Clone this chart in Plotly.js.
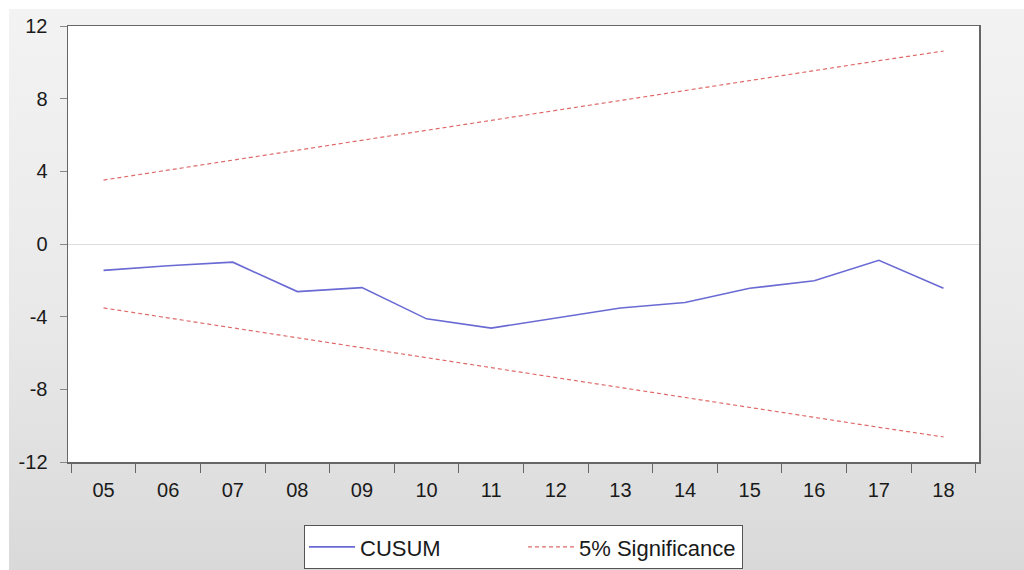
<!DOCTYPE html>
<html>
<head>
<meta charset="utf-8">
<script src="https://cdn.plot.ly/plotly-3.0.1.min.js"></script>
<style>
  html, body { margin: 0; padding: 0; background: #ffffff; width: 1024px; height: 570px; overflow: hidden; }
  #chart { position: absolute; left: 9px; top: 9px; width: 1015px; height: 561px;
           background: linear-gradient(to bottom, #f3f3f3 0%, #e9e9e9 55%, #d9d9d9 100%); }
</style>
</head>
<body>
<div id="chart"></div>
<script>
// Categories (years)
const years = ["05","06","07","08","09","10","11","12","13","14","15","16","17","18"];
// CUSUM statistic
const cusum = [-1.45, -1.2, -1.0, -2.62, -2.4, -4.12, -4.63, -4.07, -3.52, -3.22, -2.44, -2.02, -0.9, -2.44];
// 5% significance bounds
const upper = [3.52, 4.07, 4.62, 5.17, 5.71, 6.26, 6.81, 7.36, 7.90, 8.45, 9.00, 9.55, 10.09, 10.62];
const lower = [-3.52, -4.07, -4.62, -5.17, -5.71, -6.26, -6.81, -7.36, -7.90, -8.45, -9.00, -9.55, -10.09, -10.62];
// Y axis ticks
const yTickVals = [-12, -8, -4, 0, 4, 8, 12];
const yTickText = ["-12", "-8", "-4", "0", "4", "8", "12"];

const font = "Liberation Sans, Arial, sans-serif";

const traces = [
  {
    x: years, y: cusum, type: "scatter", mode: "lines", name: "CUSUM",
    line: { color: "#6a6ad4", width: 1.6 }
  },
  {
    x: years, y: upper, type: "scatter", mode: "lines", name: "5% Significance",
    legendgroup: "sig",
    line: { color: "#e06a6a", width: 1.2, dash: "4px,3px" }
  },
  {
    x: years, y: lower, type: "scatter", mode: "lines", name: "5% Significance",
    legendgroup: "sig", showlegend: false,
    line: { color: "#e06a6a", width: 1.2, dash: "4px,3px" }
  }
];

const layout = {
  width: 1015, height: 561,
  paper_bgcolor: "rgba(0,0,0,0)",
  plot_bgcolor: "#ffffff",
  margin: { l: 59, r: 45, t: 17, b: 108 },
  font: { family: font, size: 20, color: "#1a1a1a" },
  showlegend: true,
  xaxis: {
    type: "category",
    range: [-0.55, 13.55],
    tickson: "boundaries",
    ticks: "outside", ticklen: 9, tickcolor: "#666666", tickwidth: 1,
    showline: true, linecolor: "#666666", linewidth: 1.5, mirror: true,
    showgrid: false, zeroline: false,
    automargin: false,
    ticklabelstandoff: 9,
    tickfont: { family: font, size: 20, color: "#1a1a1a" }
  },
  yaxis: {
    range: [-12, 12],
    tickvals: yTickVals, ticktext: yTickText,
    ticks: "outside", ticklen: 7, tickcolor: "#888888", tickwidth: 1,
    showline: true, linecolor: "#666666", linewidth: 1.5, mirror: true,
    showgrid: false,
    zeroline: true, zerolinecolor: "#dcdcdc", zerolinewidth: 1,
    automargin: false,
    ticklabelstandoff: 8,
    tickfont: { family: font, size: 20, color: "#1a1a1a" }
  },
  legend: {
    orientation: "h",
    xref: "paper", x: 0.5, xanchor: "center",
    yref: "container", y: 0.08, yanchor: "top",
    bgcolor: "#ffffff",
    bordercolor: "#555555", borderwidth: 1,
    font: { family: font, size: 22, color: "#1a1a1a" },
    itemwidth: 46,
    entrywidth: 158, entrywidthmode: "pixels",
    tracegroupgap: 0
  }
};

Plotly.newPlot("chart", traces, layout, { displayModeBar: false, staticPlot: true });
</script>
</body>
</html>
